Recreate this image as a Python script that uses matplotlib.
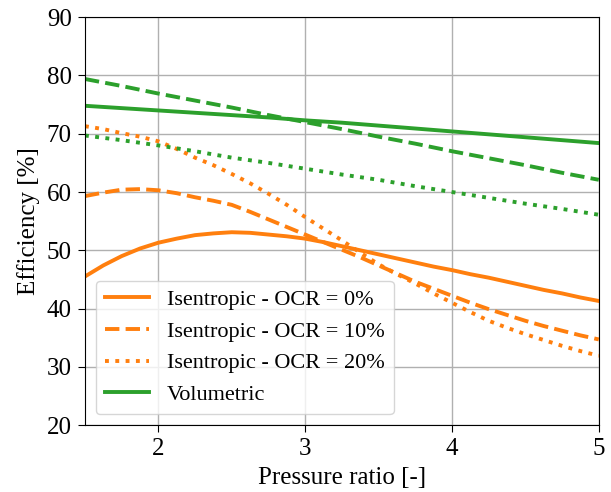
import matplotlib
matplotlib.use("Agg")
import matplotlib.pyplot as plt

plt.rcParams['font.family'] = ['Liberation Serif', 'DejaVu Serif']

# pressure ratio samples
pr = [1.5, 1.75, 2.0, 2.25, 2.5, 2.75, 3.0, 3.25, 3.5, 3.75, 4.0, 4.25, 4.5, 4.75, 5.0]
pr_fine = [1.5, 1.625, 1.75, 1.875, 2.0, 2.125, 2.25, 2.375, 2.5, 2.625, 2.75, 2.875,
           3.0, 3.125, 3.25, 3.375, 3.5, 3.625, 3.75, 3.875, 4.0, 4.125, 4.25, 4.375,
           4.5, 4.625, 4.75, 4.875, 5.0]

# isentropic efficiency [%] for three oil circulation rates
isen_ocr0 = [45.5, 47.4, 49.0, 50.3, 51.3, 52.0, 52.6, 52.9, 53.1, 53.0, 52.7, 52.4,
             52.0, 51.4, 50.7, 50.0, 49.3, 48.6, 47.9, 47.2, 46.6, 45.9, 45.3, 44.6,
             43.9, 43.2, 42.6, 41.9, 41.3]
isen_ocr10 = [59.3, 59.9, 60.4, 60.5, 60.3, 59.8, 59.1, 58.5, 57.8, 56.6, 55.3, 54.0,
              52.7, 51.4, 50.1, 48.8, 47.4, 46.0, 44.6, 43.4, 42.2, 41.0, 39.9, 38.9,
              37.9, 37.0, 36.2, 35.4, 34.7]
isen_ocr20 = [71.3, 70.8, 70.1, 69.5, 68.7, 67.4, 65.9, 64.6, 63.1, 61.5, 59.7, 57.8,
              55.7, 53.7, 51.7, 49.6, 47.6, 45.9, 44.3, 42.6, 41.0, 39.4, 37.9, 36.7,
              35.6, 34.6, 33.6, 32.7, 31.9]

# volumetric efficiency [%]
vol_ocr0 = [74.8, 74.4, 74.0, 73.6, 73.2, 72.8, 72.3, 71.9, 71.4, 70.9, 70.4, 69.9, 69.4, 68.9, 68.4]
vol_ocr10 = [79.4, 78.2, 76.9, 75.7, 74.5, 73.2, 72.0, 70.8, 69.5, 68.3, 67.0, 65.8, 64.6, 63.3, 62.1]
vol_ocr20 = [69.7, 68.9, 68.0, 67.0, 65.9, 65.0, 64.0, 63.0, 62.1, 61.0, 60.0, 59.0, 58.0, 57.1, 56.1]

labels = ['Isentropic - OCR = 0%', 'Isentropic - OCR = 10%',
          'Isentropic - OCR = 20%', 'Volumetric']

fig = plt.figure(figsize=(6.11, 4.92), dpi=100)
ax = fig.add_axes([0.139, 0.136, 0.841, 0.829])

lw = 2.8
ax.plot(pr_fine, isen_ocr0, color='tab:orange', lw=lw, ls='-', label=labels[0])
ax.plot(pr_fine, isen_ocr10, color='tab:orange', lw=lw, ls='--', label=labels[1])
ax.plot(pr_fine, isen_ocr20, color='tab:orange', lw=lw, ls=':', label=labels[2])
ax.plot(pr, vol_ocr0, color='tab:green', lw=lw, ls='-', label=labels[3])
ax.plot(pr, vol_ocr10, color='tab:green', lw=lw, ls='--')
ax.plot(pr, vol_ocr20, color='tab:green', lw=lw, ls=':')

ax.set_xlim(1.5, 5)
ax.set_ylim(20, 90)
ax.set_xticks([2, 3, 4, 5])
ax.set_yticks(range(20, 91, 10))
ax.grid(True, color='#b0b0b0', lw=1)
ax.tick_params(labelsize=18, length=5, pad=4.5)
ax.set_xlabel('Pressure ratio [-]', fontsize=18, labelpad=5)
ax.set_ylabel('Efficiency [%]', fontsize=18, labelpad=5)
ax.legend(loc='lower left', fontsize=16)

fig.savefig('out.png', dpi=100)
